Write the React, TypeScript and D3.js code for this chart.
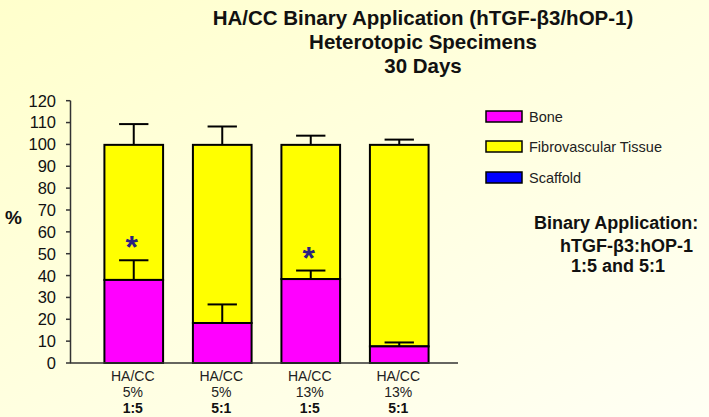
import { scaleBand, scaleLinear, range } from "d3";

// data
const matrix = ["HA/CC", "HA/CC", "HA/CC", "HA/CC"];
const concentration = ["5%", "5%", "13%", "13%"];
const ratio = ["1:5", "5:1", "1:5", "5:1"];
const bone = [38, 18.3, 38.4, 7.6];
const boneErr = [9, 8.5, 3.9, 1.8];
const fibrovascular = [61.8, 81.5, 61.4, 92.2];
const scaffold = [0, 0, 0, 0];
const totalErr = [9.5, 8.4, 4.2, 2.4];
const stars = [57, null, 52, null];
const yTicks = range(0, 121, 10);

const legendItems = [
  { name: "Bone", color: "#ff00ff" },
  { name: "Fibrovascular Tissue", color: "#ffff00" },
  { name: "Scaffold", color: "#0000ff" },
];
const titleLines = [
  "HA/CC Binary Application (hTGF-β3/hOP-1)",
  "Heterotopic Specimens",
  "30 Days",
];
const noteLines = ["Binary Application:", "hTGF-β3:hOP-1", "1:5 and 5:1"];

const W = 709;
const H = 417;
const font = "'Liberation Sans', Arial, sans-serif";

export default function App() {
  const x = scaleBand<number>()
    .domain(range(matrix.length))
    .range([89.5, 443.5])
    .paddingInner(0.337)
    .paddingOuter(0.1685);
  const y = scaleLinear().domain([0, 120]).range([363, 100.7]);
  const bw = x.bandwidth();
  const capW = bw * 0.5;

  return (
    <svg
      width={W}
      height={H}
      style={{ position: "absolute", left: 0, top: 0 }}
      fontFamily={font}
    >
      <defs>
        <linearGradient id="bg" x1="0" y1="0" x2="1" y2="1">
          <stop offset="0" stopColor="#ffffcc" />
          <stop offset="1" stopColor="#fffff4" />
        </linearGradient>
      </defs>
      <rect width={W} height={H} fill="url(#bg)" />

      {/* title */}
      {titleLines.map((t, i) => (
        <text
          key={t}
          x={423}
          y={25 + i * 24}
          textAnchor="middle"
          fontWeight="bold"
          fontSize={20.5}
          fill="#111"
        >
          {t}
        </text>
      ))}

      {/* y axis */}
      <line x1={70.5} x2={70.5} y1={y(0)} y2={y(120)} stroke="#333" strokeWidth={1.5} />
      {yTicks.map((t) => (
        <g key={t}>
          <line x1={66} x2={70.5} y1={y(t)} y2={y(t)} stroke="#333" strokeWidth={1.5} />
          <text
            x={56}
            y={y(t)}
            dy="0.36em"
            textAnchor="end"
            fontSize={16.5}
            fill="#111"
          >
            {t}
          </text>
        </g>
      ))}
      <text x={5} y={217} dy="0.36em" fontSize={19} fontWeight="bold" fill="#111">
        %
      </text>

      {/* bars */}
      {matrix.map((_, i) => {
        const x0 = x(i)!;
        const cx = x0 + bw / 2;
        const top = bone[i] + fibrovascular[i] + scaffold[i];
        const boneTop = bone[i] + boneErr[i];
        const totTop = top + totalErr[i];
        return (
          <g key={i}>
            {/* error bars */}
            <line x1={cx} x2={cx} y1={y(top)} y2={y(totTop)} stroke="#000" strokeWidth={2} />
            <line x1={cx - capW / 2} x2={cx + capW / 2} y1={y(totTop)} y2={y(totTop)} stroke="#000" strokeWidth={2} />
            <rect
              x={x0}
              y={y(top)}
              width={bw}
              height={y(bone[i]) - y(top)}
              fill="#ffff00"
              stroke="#000"
              strokeWidth={2}
            />
            <rect
              x={x0}
              y={y(bone[i])}
              width={bw}
              height={y(0) - y(bone[i])}
              fill="#ff00ff"
              stroke="#000"
              strokeWidth={2}
            />
            <line x1={cx} x2={cx} y1={y(bone[i])} y2={y(boneTop)} stroke="#000" strokeWidth={2} />
            <line x1={cx - capW / 2} x2={cx + capW / 2} y1={y(boneTop)} y2={y(boneTop)} stroke="#000" strokeWidth={2} />
            {stars[i] != null && (
              <text
                x={cx - 2}
                y={y(stars[i]!)}
                dy="0.62em"
                textAnchor="middle"
                fontSize={32}
                fontWeight="bold"
                fill="#2a2080"
              >
                *
              </text>
            )}
            <text x={cx - 1} y={381} textAnchor="middle" fontSize={14} fill="#222">
              {matrix[i]}
            </text>
            <text x={cx - 1} y={397} textAnchor="middle" fontSize={14} fill="#222">
              {concentration[i]}
            </text>
            <text x={cx - 1} y={413} textAnchor="middle" fontSize={14} fontWeight="bold" fill="#111">
              {ratio[i]}
            </text>
          </g>
        );
      })}

      {/* x axis */}
      <line x1={70} x2={458} y1={y(0)} y2={y(0)} stroke="#333" strokeWidth={1.5} />

      {/* legend */}
      {legendItems.map((d, i) => {
        const ly = [117, 147, 178][i];
        return (
          <g key={d.name}>
            <rect
              x={486}
              y={ly - 6}
              width={36}
              height={11}
              fill={d.color}
              stroke="#000"
              strokeWidth={1.5}
            />
            <text x={529} y={ly} dy="0.35em" fontSize={14.5} fill="#222">
              {d.name}
            </text>
          </g>
        );
      })}

      {/* note */}
      {noteLines.map((t, i) => (
        <text
          key={t}
          x={[534, 560, 571][i]}
          y={[229, 252, 272][i]}
          fontSize={18}
          fontWeight="bold"
          fill="#111"
        >
          {t}
        </text>
      ))}
    </svg>
  );
}
